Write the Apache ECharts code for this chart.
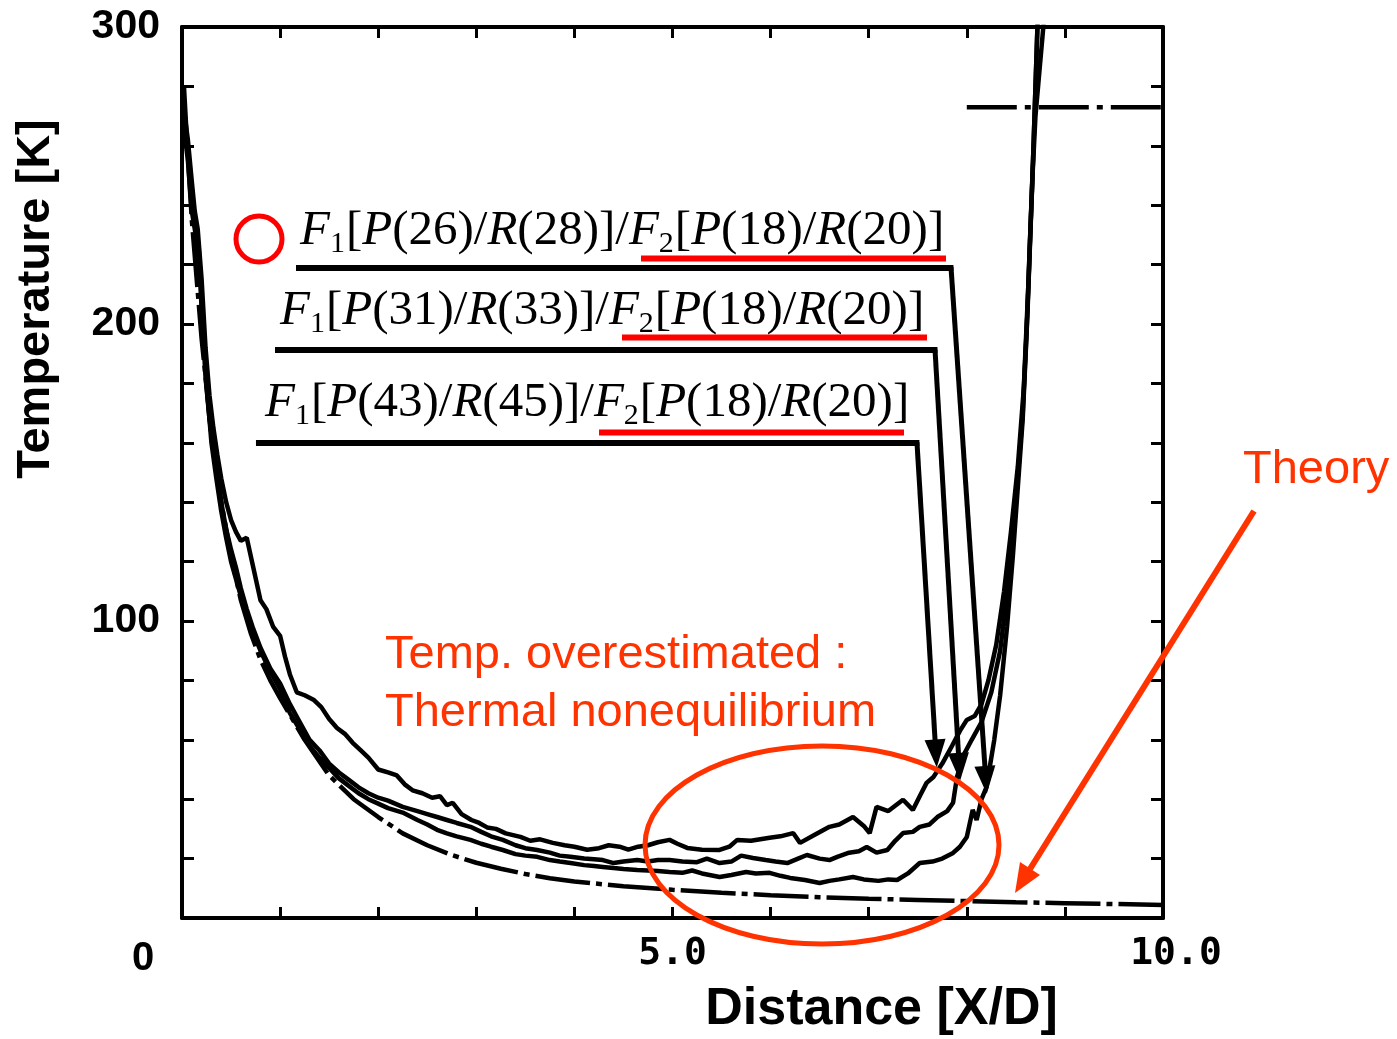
<!DOCTYPE html>
<html><head><meta charset="utf-8">
<script src="https://cdn.jsdelivr.net/npm/echarts@6/dist/echarts.min.js"></script>
<style>html,body{margin:0;padding:0;background:#fff}#c{width:1397px;height:1039px}</style>
</head><body><div id="c"></div>
<script>
// ---------------- data ----------------
const xLabelValues = [0, 5, 10];
const xLabelTexts = ['0', '5.0', '10.0'];
const yLabelValues = [100, 200, 300];

// F1[P(43)/R(45)]/F2[P(18)/R(20)]  (upper measured curve)
const seriesP43 = [[0.02,272],[0.06,262],[0.1,248],[0.13,238],[0.16,232],[0.2,215],[0.24,192],[0.28,176],[0.32,165],[0.36,156],[0.4,148],[0.45,140],[0.5,134],[0.55,130],[0.6,127],[0.66,128],[0.72,119],[0.8,107],[0.86,104],[0.93,98],[1.0,95],[1.05,88],[1.1,82],[1.17,76],[1.25,75],[1.34,73.5],[1.42,71],[1.5,67],[1.58,64],[1.66,62],[1.74,59],[1.82,56.5],[1.9,54],[2.0,50],[2.1,49],[2.19,48],[2.27,45],[2.35,43],[2.45,42],[2.55,40.5],[2.63,41],[2.7,38],[2.76,38.8],[2.85,35],[2.95,33],[3.03,32],[3.11,30.5],[3.2,30],[3.3,28.5],[3.45,27.3],[3.55,26],[3.65,26.5],[3.78,25.3],[3.9,24.5],[4.0,24],[4.13,23],[4.25,23.5],[4.35,24.5],[4.46,24],[4.55,23],[4.65,24],[4.75,24.5],[4.85,25.5],[4.97,26.3],[5.05,25],[5.15,23.6],[5.3,23],[5.48,22.9],[5.58,24],[5.66,26.3],[5.8,26],[5.99,27],[6.1,27.5],[6.23,28.6],[6.3,25.3],[6.45,28],[6.6,30.7],[6.7,31.5],[6.84,34],[6.95,31],[7.01,28.6],[7.08,37.4],[7.2,36],[7.35,39.8],[7.45,36.4],[7.52,41],[7.59,45.5],[7.66,47.5],[7.75,52],[7.85,58],[7.93,63],[8.0,66.7],[8.08,68],[8.15,72],[8.22,80],[8.3,92],[8.38,110],[8.45,130],[8.52,152],[8.58,178],[8.63,215],[8.68,260],[8.72,300],[8.75,325]];

// F1[P(31)/R(33)]/F2[P(18)/R(20)]  (middle measured curve)
const seriesP31 = [[0.02,268],[0.06,258],[0.1,242],[0.14,232],[0.17,226],[0.2,205],[0.24,182],[0.28,168],[0.32,158],[0.36,150],[0.4,140],[0.45,131],[0.5,124],[0.55,118],[0.6,111],[0.66,104],[0.72,98],[0.8,91],[0.9,84],[1.0,79],[1.1,72],[1.2,66],[1.3,60],[1.4,56.5],[1.5,52],[1.6,49],[1.7,46.5],[1.8,44],[1.9,42],[2.0,40.5],[2.1,39.5],[2.25,37.4],[2.4,36],[2.5,35],[2.6,34],[2.7,33],[2.8,32],[2.94,30.7],[3.05,29],[3.15,27.5],[3.27,26.3],[3.4,24.5],[3.5,23.5],[3.62,22.9],[3.75,22],[3.85,21],[3.96,20.6],[4.1,20],[4.2,19.8],[4.29,19.5],[4.4,18.5],[4.5,19],[4.64,19.5],[4.75,19],[4.85,19.5],[4.97,19.5],[5.1,19],[5.25,18.8],[5.35,20],[5.48,18.5],[5.6,19],[5.7,21],[5.82,20.2],[5.95,19.5],[6.05,19],[6.17,18.5],[6.28,20],[6.37,21.2],[6.5,20],[6.6,19.5],[6.68,20.6],[6.8,22],[6.9,22.5],[6.98,23.9],[7.08,22],[7.19,22.9],[7.27,26],[7.35,28.6],[7.45,29],[7.52,30.7],[7.62,31.5],[7.7,34],[7.8,36],[7.86,38.8],[7.9,47.5],[7.97,55],[8.05,60],[8.15,66],[8.25,76],[8.34,90],[8.42,112],[8.5,140],[8.57,170],[8.62,205],[8.67,250],[8.71,290],[8.74,320]];

// F1[P(26)/R(28)]/F2[P(18)/R(20)]  (lower measured curve)
const seriesP26 = [[0.02,266],[0.06,255],[0.1,238],[0.15,228],[0.18,220],[0.22,196],[0.26,176],[0.3,160],[0.35,148],[0.4,137],[0.45,128],[0.5,120],[0.56,113],[0.62,106],[0.7,98],[0.8,90],[0.9,83],[1.0,77],[1.1,69],[1.2,63.5],[1.3,58],[1.4,54],[1.5,50.5],[1.6,47],[1.7,44.5],[1.8,42],[1.9,40],[2.0,38.5],[2.1,37],[2.25,35.5],[2.4,33],[2.5,31.5],[2.6,29.7],[2.7,28.5],[2.8,27.5],[2.94,26.3],[3.05,25],[3.15,24],[3.27,22.9],[3.4,21.5],[3.5,21],[3.62,20.6],[3.75,19.5],[3.85,19],[3.96,18.5],[4.1,17.8],[4.2,17.5],[4.29,17.2],[4.4,16.8],[4.5,16.5],[4.64,16.2],[4.75,16],[4.85,15.8],[4.97,15.5],[5.1,15.2],[5.2,16],[5.3,15],[5.48,13.8],[5.6,14.5],[5.75,15.5],[5.85,15],[5.99,15.2],[6.1,14.2],[6.2,13.5],[6.35,12.8],[6.5,11.8],[6.6,12.5],[6.7,13],[6.84,13.8],[6.95,13],[7.1,12.5],[7.2,13],[7.29,12.8],[7.4,15],[7.52,18.5],[7.65,19],[7.75,20],[7.86,21.9],[7.93,24],[8.0,27.3],[8.06,36.4],[8.1,33],[8.15,40],[8.2,44],[8.28,60],[8.34,75],[8.41,98],[8.47,122],[8.52,145],[8.57,168],[8.61,197],[8.64,225],[8.67,250],[8.7,270],[8.74,285],[8.78,300],[8.82,320]];

// Theory (expansion) and theory after the shock
const seriesTheory = [[0.02,280],[0.05,262],[0.1,235],[0.2,195],[0.3,163],[0.4,140],[0.5,122],[0.6,107],[0.7,96],[0.8,87],[0.9,80],[1.0,74],[1.25,60],[1.5,48],[1.75,40],[2.0,34],[2.25,28.5],[2.5,24.5],[2.75,21.2],[3.0,18.6],[3.25,16.6],[3.5,14.8],[3.75,13.4],[4.0,12.3],[4.5,10.7],[5.0,9.5],[5.5,8.5],[6.0,7.7],[6.5,7.0],[7.0,6.5],[7.5,6.1],[8.0,5.7],[8.5,5.3],[9.0,5.0],[9.5,4.7],[10.0,4.4]];
const seriesTheoryShock = [[8.0,273],[10.0,273]];

// leader arrows from the labels: [startX, level, cornerX, tipX, tipT]
const arrowP26 = [1.162, 219.1, 7.839, 8.194, 46.5];
const arrowP31 = [0.948, 191.4, 7.676, 7.923, 50.9];
const arrowP43 = [0.754, 160.1, 7.492, 7.685, 55.4];

const labelP26 = ['26', '28', '18', '20'];
const labelP31 = ['31', '33', '18', '20'];
const labelP43 = ['43', '45', '18', '20'];

// ---------------- chart ----------------
const chart = echarts.init(document.getElementById('c'), null, {renderer: 'canvas'});

function arrowMarkLine(a) {
  return {
    silent: true,
    symbol: ['none', 'none'],
    label: {show: false},
    emphasis: {disabled: true},
    lineStyle: {color: '#000', width: 6, type: 'solid', opacity: 1},
    data: [
      [{coord: [a[0], a[1]], symbol: 'none'}, {coord: [a[2] + 0.025, a[1]], symbol: 'none'}],
      [{coord: [a[2], a[1]], symbol: 'none', lineStyle: {width: 5}}, {coord: [a[3], a[4]], symbol: 'triangle', symbolSize: [21, 28]}]
    ]
  };
}

function labelRich(l) {
  return '{i|F}{s|1}{n|[}{i|P}{n|(' + l[0] + ')/}{i|R}{n|(' + l[1] + ')]/}{i|F}{s|2}{n|[}{i|P}{n|(' + l[2] + ')/}{i|R}{n|(' + l[3] + ')]}';
}
const labelRichStyles = {
  i: {fontFamily: 'Liberation Serif', fontStyle: 'italic', fontSize: 49, fill: '#000', verticalAlign: 'top'},
  n: {fontFamily: 'Liberation Serif', fontSize: 49, fill: '#000', verticalAlign: 'top'},
  s: {fontFamily: 'Liberation Serif', fontSize: 30, fill: '#000', verticalAlign: 'top', padding: [22, 1, 0, 0]}
};

const lineCommon = {type: 'line', symbol: 'none', showSymbol: false, silent: true, clip: true, z: 3};
const red = '#ff0000';
const orange = '#ff3300';

const option = {
  animation: false,
  backgroundColor: '#ffffff',
  grid: {left: 182, top: 27, right: 234, bottom: 121, containLabel: false, outerBoundsMode: 'none', show: false},
  xAxis: [{
    type: 'value', min: 0, max: 10, interval: 1, position: 'bottom',
    axisLine: {show: true, onZero: false, lineStyle: {color: '#000', width: 4}},
    axisTick: {show: true, inside: true, length: 11, lineStyle: {color: '#000', width: 3}},
    splitLine: {show: false},
    axisLabel: {
      show: true, margin: 17, color: '#000',
      formatter: function (v) {
        const i = xLabelValues.indexOf(v);
        if (i < 0) return '';
        return '{' + ['z', 'm', 't'][i] + '|' + xLabelTexts[i] + '}';
      },
      rich: {
        z: {fontFamily: 'Liberation Sans', fontWeight: 'bold', fontSize: 40, color: '#000', padding: [4, 78, 0, 0]},
        m: {fontFamily: 'DejaVu Sans Mono', fontWeight: 'bold', fontSize: 38, color: '#000'},
        t: {fontFamily: 'DejaVu Sans Mono', fontWeight: 'bold', fontSize: 38, color: '#000', padding: [0, 0, 0, 26]}
      }
    },
    name: 'Distance [X/D]', nameLocation: 'middle', nameGap: 63,
    nameTextStyle: {fontFamily: 'Liberation Sans', fontWeight: 'bold', fontSize: 52, color: '#000', padding: [0, 0, 0, 418]}
  }, {
    type: 'value', min: 0, max: 10, interval: 1, position: 'top',
    axisLine: {show: true, onZero: false, lineStyle: {color: '#000', width: 4}},
    axisTick: {show: true, inside: true, length: 11, lineStyle: {color: '#000', width: 3}},
    splitLine: {show: false}, axisLabel: {show: false}
  }],
  yAxis: [{
    type: 'value', min: 0, max: 300, interval: 20, position: 'left',
    axisLine: {show: true, onZero: false, lineStyle: {color: '#000', width: 4}},
    axisTick: {show: true, inside: true, length: 12, lineStyle: {color: '#000', width: 3}},
    splitLine: {show: false},
    axisLabel: {
      show: true, margin: 22, color: '#000', fontFamily: 'Liberation Sans', fontWeight: 'bold', fontSize: 41,
      formatter: function (v) { return yLabelValues.indexOf(v) >= 0 ? String(v) : ''; }
    },
    name: 'Temperature [K]', nameLocation: 'middle', nameGap: 122, nameRotate: 90,
    nameTextStyle: {fontFamily: 'Liberation Sans', fontWeight: 'bold', fontSize: 47, color: '#000', padding: [0, 0, 0, 347]}
  }, {
    type: 'value', min: 0, max: 300, interval: 20, position: 'right',
    axisLine: {show: true, onZero: false, lineStyle: {color: '#000', width: 4}},
    axisTick: {show: true, inside: true, length: 12, lineStyle: {color: '#000', width: 3}},
    splitLine: {show: false}, axisLabel: {show: false}
  }],
  series: [
    Object.assign({}, lineCommon, {name: 'Theory', data: seriesTheory,
      lineStyle: {color: '#000', width: 4.5, type: [55, 6, 6, 6]}}),
    Object.assign({}, lineCommon, {name: 'Theory (behind shock)', data: seriesTheoryShock,
      lineStyle: {color: '#000', width: 4.5, type: [50, 8, 6, 8]}}),
    Object.assign({}, lineCommon, {name: 'F1[P(26)/R(28)]/F2[P(18)/R(20)]', data: seriesP26,
      lineStyle: {color: '#000', width: 4.5}, markLine: arrowMarkLine(arrowP26)}),
    Object.assign({}, lineCommon, {name: 'F1[P(31)/R(33)]/F2[P(18)/R(20)]', data: seriesP31,
      lineStyle: {color: '#000', width: 4.5}, markLine: arrowMarkLine(arrowP31)}),
    Object.assign({}, lineCommon, {name: 'F1[P(43)/R(45)]/F2[P(18)/R(20)]', data: seriesP43,
      lineStyle: {color: '#000', width: 4.5}, markLine: arrowMarkLine(arrowP43)})
  ],
  graphic: [
    // label texts
    {type: 'text', x: 300, y: 207, z: 50, style: {text: labelRich(labelP26), rich: labelRichStyles, align: 'left', verticalAlign: 'top'}},
    {type: 'text', x: 280, y: 287, z: 50, style: {text: labelRich(labelP31), rich: labelRichStyles, align: 'left', verticalAlign: 'top'}},
    {type: 'text', x: 265, y: 379, z: 50, style: {text: labelRich(labelP43), rich: labelRichStyles, align: 'left', verticalAlign: 'top'}},
    // red marks
    {type: 'circle', z: 60, shape: {cx: 259, cy: 239, r: 23}, style: {fill: 'none', stroke: red, lineWidth: 5}},
    {type: 'line', z: 60, shape: {x1: 641, y1: 258.5, x2: 946, y2: 258.5}, style: {stroke: red, lineWidth: 6}},
    {type: 'line', z: 60, shape: {x1: 622, y1: 337.5, x2: 927, y2: 337.5}, style: {stroke: red, lineWidth: 6}},
    {type: 'line', z: 60, shape: {x1: 599, y1: 432.5, x2: 904, y2: 432.5}, style: {stroke: red, lineWidth: 6}},
    // annotation: overestimation
    {type: 'text', z: 60, x: 385, y: 655, style: {text: 'Temp. overestimated :', fontFamily: 'Liberation Sans', fontSize: 47, fill: orange, align: 'left', verticalAlign: 'middle'}},
    {type: 'text', z: 60, x: 385, y: 713, style: {text: 'Thermal nonequilibrium', fontFamily: 'Liberation Sans', fontSize: 47, fill: orange, align: 'left', verticalAlign: 'middle'}},
    {type: 'ellipse', z: 60, shape: {cx: 822, cy: 845, rx: 177, ry: 99}, style: {fill: 'none', stroke: orange, lineWidth: 5}},
    // annotation: theory
    {type: 'text', z: 60, x: 1243, y: 470, style: {text: 'Theory', fontFamily: 'Liberation Sans', fontSize: 47, fill: orange, align: 'left', verticalAlign: 'middle'}},
    {type: 'line', z: 60, shape: {x1: 1254, y1: 511, x2: 1030, y2: 869}, style: {stroke: orange, lineWidth: 6}},
    {type: 'polygon', z: 60, shape: {points: [[1015, 893], [1040, 875], [1020, 862]]}, style: {fill: orange, stroke: 'none'}}
  ]
};
chart.setOption(option);
</script></body></html>
